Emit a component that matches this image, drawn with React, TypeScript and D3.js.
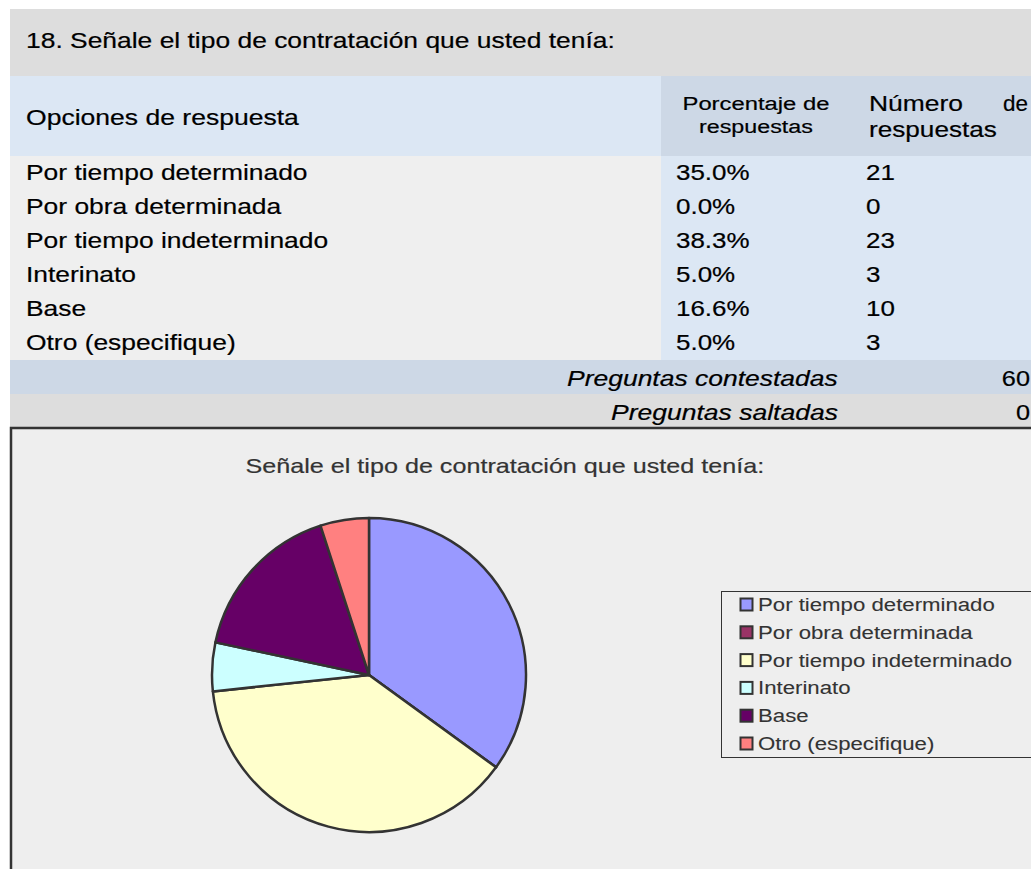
import React, { useEffect, useRef } from "react";
import * as d3 from "d3";

// survey data
const categories = [
  "Por tiempo determinado",
  "Por obra determinada",
  "Por tiempo indeterminado",
  "Interinato",
  "Base",
  "Otro (especifique)",
];
const percents = [35.0, 0.0, 38.3, 5.0, 16.6, 5.0];
const counts = [21, 0, 23, 3, 10, 3];
const answered = 60;
const skipped = 0;
const sliceColors = ["#9999ff", "#993366", "#ffffcc", "#ccffff", "#660066", "#ff8080"];

const questionTitle = "18. Señale el tipo de contratación que usted tenía:";
const chartTitle = "Señale el tipo de contratación que usted tenía:";

const FONT = "'Liberation Sans', Arial, Helvetica, sans-serif";

// the source text is wider than Arial: stretch glyphs horizontally to the measured width
function fit(node: SVGTextElement, opts: { width?: number; factor?: number; end?: number; center?: number }) {
  const natural = node.getComputedTextLength();
  const w = opts.width ?? natural * (opts.factor ?? 1);
  let x0 = +node.getAttribute("x")!;
  if (opts.end !== undefined) x0 = opts.end - w;
  if (opts.center !== undefined) x0 = opts.center - w / 2;
  const sx = w / natural;
  node.setAttribute("x", "0");
  node.setAttribute("transform", `translate(${x0},0) scale(${sx},1)`);
}

export default function App() {
  const ref = useRef<SVGSVGElement>(null);

  useEffect(() => {
    const width = 1031;
    const height = 869;
    const svg = d3.select(ref.current).attr("width", width).attr("height", height);
    svg.selectAll("*").remove();

    const addText = (x: number, y: number, txt: string, size: number, opts: any = {}) =>
      svg
        .append("text")
        .attr("x", x)
        .attr("y", y)
        .attr("font-family", FONT)
        .attr("font-size", size)
        .attr("font-style", opts.italic ? "italic" : "normal")
        .attr("fill", opts.color || "#000")
        .attr("stroke", opts.color || "#000")
        .attr("stroke-width", opts.weight ?? 0.2)
        .text(txt);

    // ---- table backgrounds
    svg.append("rect").attr("x", 10).attr("y", 9).attr("width", 1021).attr("height", 67).attr("fill", "#dddddd");
    svg.append("rect").attr("x", 10).attr("y", 76).attr("width", 651).attr("height", 80).attr("fill", "#dce7f4");
    svg.append("rect").attr("x", 661).attr("y", 76).attr("width", 370).attr("height", 80).attr("fill", "#cdd8e6");
    svg.append("rect").attr("x", 10).attr("y", 156).attr("width", 651).attr("height", 204).attr("fill", "#efefef");
    svg.append("rect").attr("x", 661).attr("y", 156).attr("width", 370).attr("height", 204).attr("fill", "#dce7f4");
    svg.append("rect").attr("x", 10).attr("y", 360).attr("width", 1021).attr("height", 34).attr("fill", "#cdd8e6");
    svg.append("rect").attr("x", 10).attr("y", 394).attr("width", 1021).attr("height", 34).attr("fill", "#dddddd");

    // ---- header texts
    fit(addText(26, 48, questionTitle, 21.5).node()!, { width: 589 });
    fit(addText(26, 125, "Opciones de respuesta", 21.5).node()!, { width: 273 });
    fit(addText(683, 110, "Porcentaje de", 19).node()!, { width: 147, center: 756 });
    fit(addText(698, 133, "respuestas", 19).node()!, { width: 114, center: 756 });
    fit(addText(869, 111, "Número", 22).node()!, { width: 94 });
    fit(addText(1003, 111, "de", 22).node()!, { width: 25 });
    fit(addText(869, 137, "respuestas", 22).node()!, { width: 128 });

    // ---- rows
    const rowY = d3.scaleBand<string>().domain(categories).range([156, 360]);
    categories.forEach((c, i) => {
      const y = rowY(c)! + 24;
      fit(addText(26, y, c, 22).node()!, { factor: 1.2 });
      fit(addText(676, y, percents[i].toFixed(1) + "%", 22).node()!, { factor: 1.18 });
      fit(addText(866, y, String(counts[i]), 22).node()!, { factor: 1.18 });
    });

    fit(addText(567, 386, "Preguntas contestadas", 22, { italic: true }).node()!, { width: 271, end: 838 });
    fit(addText(1000, 386, String(answered), 22).node()!, { factor: 1.15, end: 1030 });
    fit(addText(611, 420, "Preguntas saltadas", 22, { italic: true }).node()!, { width: 227, end: 838 });
    fit(addText(1000, 420, String(skipped), 22).node()!, { factor: 1.15, end: 1030 });

    // ---- chart area
    svg
      .append("rect")
      .attr("x", 11)
      .attr("y", 428)
      .attr("width", 1040)
      .attr("height", 460)
      .attr("fill", "#eeeeee")
      .attr("stroke", "#333")
      .attr("stroke-width", 2.5);

    fit(addText(246, 473, chartTitle, 20.5, { color: "#333" }).node()!, { width: 519, center: 505 });

    const cx = 369;
    const cy = 675;
    const r = 157;
    const pie = d3.pie<number>().sort(null).value((d) => d);
    const arc = d3.arc<d3.PieArcDatum<number>>().innerRadius(0).outerRadius(r);
    const g = svg.append("g").attr("transform", `translate(${cx},${cy})`);
    g.selectAll("path")
      .data(pie(counts))
      .enter()
      .append("path")
      .attr("d", arc)
      .attr("fill", (_d, i) => sliceColors[i])
      .attr("stroke", "#333")
      .attr("stroke-width", 2.5)
      .attr("stroke-linejoin", "round");

    // ---- legend
    svg
      .append("rect")
      .attr("x", 721.5)
      .attr("y", 591.5)
      .attr("width", 330)
      .attr("height", 166)
      .attr("fill", "none")
      .attr("stroke", "#333")
      .attr("stroke-width", 1);

    const legY = d3.scalePoint<string>().domain(categories).range([604.5, 743.5]);
    categories.forEach((c, i) => {
      const y = legY(c)!;
      svg
        .append("rect")
        .attr("x", 740.5)
        .attr("y", y - 6)
        .attr("width", 12)
        .attr("height", 12)
        .attr("fill", sliceColors[i])
        .attr("stroke", "#333")
        .attr("stroke-width", 2);
      fit(addText(758, y + 6.5, c, 18.5, { color: "#333", weight: 0.1 }).node()!, { factor: 1.2 });
    });
  }, []);

  return (
    <div style={{ position: "absolute", left: 0, top: 0 }}>
      <svg ref={ref}></svg>
    </div>
  );
}
